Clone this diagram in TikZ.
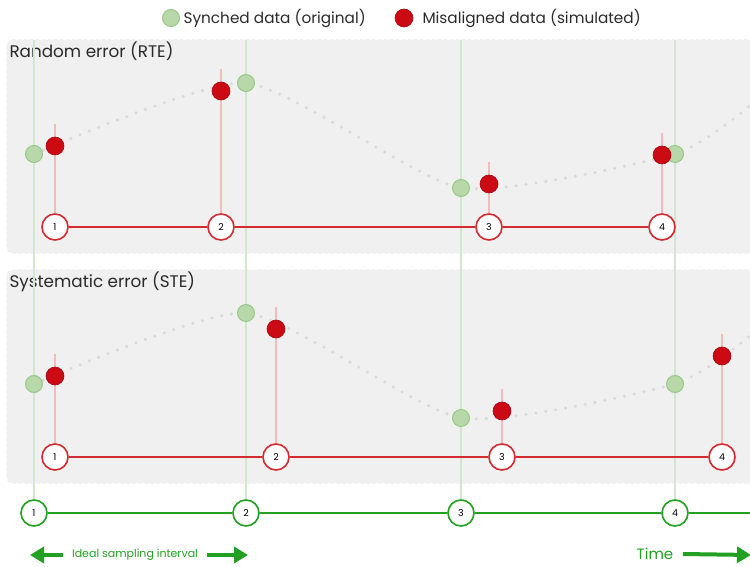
\documentclass[tikz,border=0pt]{standalone}
\usepackage{fontspec}
\setmainfont{Poppins}
\usepackage{tikz}
\usetikzlibrary{calc,arrows.meta}
\tikzset{>=stealth}
\definecolor{panelgray}{HTML}{F0F0F0}
\definecolor{dotgray}{HTML}{D9D9D9}
\definecolor{syncfill}{HTML}{B8D8AA}
\definecolor{syncline}{HTML}{98C888}
\definecolor{misfill}{HTML}{CC0A14}
\definecolor{misline}{HTML}{D42A30}
\definecolor{axisgreen}{HTML}{22A022}
\definecolor{gridgreen}{HTML}{D2E8CC}
\definecolor{stemred}{HTML}{F2BCBC}
\definecolor{textgray}{HTML}{2A2A2A}
\tikzset{
  syncdot/.style={circle,fill=syncfill,draw=syncline,line width=1pt,minimum size=17pt,inner sep=0pt},
  misdot/.style={circle,fill=misfill,draw=misfill!80!black,line width=0.6pt,minimum size=18pt,inner sep=0pt},
  errstep/.style={circle,fill=white,draw=misline,line width=1.6pt,minimum size=26pt,inner sep=0pt,font=\fontsize{9.5}{9.5}\selectfont},
  timestep/.style={circle,fill=white,draw=axisgreen,line width=1.6pt,minimum size=26pt,inner sep=0pt,font=\fontsize{9.5}{9.5}\selectfont},
  panel/.style={fill=panelgray,draw=black!6,dashed,line width=1.5pt,rounded corners=6pt},
  title/.style={anchor=west,text=textgray,font=\fontsize{16.8}{16.8}\selectfont},
  legend/.style={anchor=west,text=textgray,font=\fontsize{15.3}{15.3}\selectfont},
  stem/.style={stemred,line width=1.3pt},
  tick/.style={gridgreen,line width=1.4pt},
  trend/.style={dotgray,line width=3.4pt,dash pattern=on 0pt off 10pt,line cap=round},
  bigarrow/.style={axisgreen,line width=4pt,-{Triangle[length=14pt,width=16pt]}}
}
\begin{document}
\begin{tikzpicture}[x=1pt,y=-1pt]
  \useasboundingbox (0,0) rectangle (750,567);

  % legend
  \node[syncdot] (legsync) at (171,18) {};
  \node[legend] (legsynctxt) at (180,18) {Synched data (original)};
  \node[misdot] (legmis) at (404,18) {};
  \node[legend] (legmistxt) at (419,18) {Misaligned data (simulated)};

  % panels
  \fill[panel] (7,40) rectangle (765,253);
  \fill[panel] (7,270) rectangle (765,483);
  \node[title] (rtetitle) at (6,51) {Random error (RTE)};
  \node[title] (stetitle) at (6,282) {Systematic error (STE)};

  % ideal time line
  \foreach \n/\x in {1/34,2/246,3/461,4/675}{
    \node[timestep] (t\n) at (\x,513) {\n};
    \coordinate (top\n) at (\x,40);
    \draw[tick] (top\n) -- (t\n);
  }
  \coordinate (tend) at (752,513);
  \draw[axisgreen,line width=1.2pt] (t1) -- (t2) -- (t3) -- (t4) -- (tend);

  % trend of the signal
  \draw[trend] plot[smooth,tension=0.35] coordinates {(34,154) (246,83) (461,188) (675,154) (752,104)};
  \draw[trend] plot[smooth,tension=0.35] coordinates {(34,384) (246,313) (461,418) (675,384) (752,334)};

  % random error
  \foreach \n/\rx/\ry in {1/55/146,2/221/91,3/489/184,4/662/155}{
    \node[errstep] (r\n) at (\rx,227) {\n};
    \coordinate (rs\n) at (\rx,\ry-22);
    \draw[stem] (rs\n) -- (r\n);
  }
  \draw[misline,line width=1.2pt] (r1) -- (r2) -- (r3) -- (r4);
  \foreach \n/\gx/\gy in {1/34/154,2/246/83,3/461/188,4/675/154}{
    \node[syncdot] (rg\n) at (\gx,\gy) {};
  }
  \foreach \n/\rx/\ry in {1/55/146,2/221/91,3/489/184,4/662/155}{
    \node[misdot] (rm\n) at (\rx,\ry) {};
  }

  % systematic error
  \foreach \n/\rx/\ry in {1/55/376,2/276/329,3/502/411,4/722/356}{
    \node[errstep] (s\n) at (\rx,457) {\n};
    \coordinate (ss\n) at (\rx,\ry-22);
    \draw[stem] (ss\n) -- (s\n);
  }
  \draw[misline,line width=1.2pt] (s1) -- (s2) -- (s3) -- (s4);
  \foreach \n/\gx/\gy in {1/34/384,2/246/313,3/461/418,4/675/384}{
    \node[syncdot] (sg\n) at (\gx,\gy) {};
  }
  \foreach \n/\rx/\ry in {1/55/376,2/276/329,3/502/411,4/722/356}{
    \node[misdot] (sm\n) at (\rx,\ry) {};
  }

  % sampling interval and time
  \node[text=axisgreen,font=\fontsize{11}{11}\selectfont] (interval) at (135,555) {Ideal sampling interval};
  \coordinate (ileft) at (30,555);
  \coordinate (iright) at (248,555);
  \draw[bigarrow] ([xshift=-6pt]interval.west) -- (ileft);
  \draw[bigarrow] ([xshift=6pt]interval.east) -- (iright);
  \node[text=axisgreen,font=\fontsize{15}{15}\selectfont] (time) at (655,554) {Time};
  \coordinate (tright) at (751,555);
  \draw[bigarrow] ([xshift=6pt]time.east) -- (tright);
\end{tikzpicture}
\end{document}
